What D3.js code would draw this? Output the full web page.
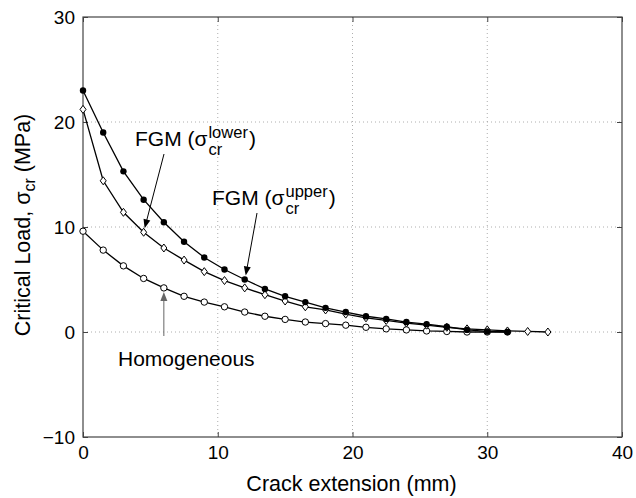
<!DOCTYPE html>
<html>
<head>
<meta charset="utf-8">
<script src="https://cdn.jsdelivr.net/npm/d3@7"></script>
<style>
  body { margin: 0; background: #fff; }
  svg { display: block; font-family: "Liberation Sans", Arial, Helvetica, sans-serif; }
</style>
</head>
<body>
<svg id="chart" width="636" height="498"></svg>
<script>
// crack extension (mm)
const crackUpper = [0, 1.5, 3, 4.5, 6, 7.5, 9, 10.5, 12, 13.5, 15, 16.5, 18, 19.5, 21, 22.5, 24, 25.5, 27, 28.5, 30, 31.5];
const crackLower = [0, 1.5, 3, 4.5, 6, 7.5, 9, 10.5, 12, 13.5, 15, 16.5, 18, 19.5, 21, 22.5, 24, 25.5, 27, 28.5, 30, 31.5, 33, 34.5];
const crackHomo  = [0, 1.5, 3, 4.5, 6, 7.5, 9, 10.5, 12, 13.5, 15, 16.5, 18, 19.5, 21, 22.5, 24, 25.5, 27, 28.5, 30, 31.5];

// critical load (MPa)
const sigmaUpper = [23.0, 19.0, 15.3, 12.6, 10.45, 8.6, 7.1, 5.95, 5.0, 4.1, 3.4, 2.85, 2.3, 1.9, 1.5, 1.25, 0.95, 0.75, 0.5, 0.2, 0.05, 0.0];
const sigmaLower = [21.2, 14.4, 11.4, 9.5, 8.0, 6.85, 5.75, 4.9, 4.2, 3.55, 2.95, 2.4, 2.1, 1.7, 1.35, 1.1, 0.85, 0.65, 0.45, 0.3, 0.2, 0.1, 0.05, 0.0];
const sigmaHomo  = [9.6, 7.8, 6.3, 5.1, 4.2, 3.4, 2.85, 2.4, 1.9, 1.5, 1.2, 0.95, 0.8, 0.65, 0.45, 0.3, 0.2, 0.1, 0.05, 0.0, 0.0, 0.0];

const xTicks = [0, 10, 20, 30, 40];
const yTicks = [-10, 0, 10, 20, 30];

const svg = d3.select("#chart");
const mLeft = 83, mRight = 622, mTop = 17, mBottom = 437;

const x = d3.scaleLinear().domain([0, 40]).range([mLeft, mRight]);
const y = d3.scaleLinear().domain([-10, 30]).range([mBottom, mTop]);

// 网格线
const grid = svg.append("g");
xTicks.slice(1, -1).forEach(t => {
  grid.append("line")
    .attr("x1", x(t)).attr("x2", x(t)).attr("y1", mTop).attr("y2", mBottom)
    .attr("stroke", "#999").attr("stroke-width", 0.8).attr("stroke-dasharray", "1,3");
});
yTicks.slice(1, -1).forEach(t => {
  grid.append("line")
    .attr("x1", mLeft).attr("x2", mRight).attr("y1", y(t)).attr("y2", y(t))
    .attr("stroke", "#999").attr("stroke-width", 0.8).attr("stroke-dasharray", "1,3");
});

// 坐标轴（刻度朝内）
const fmt = d => d < 0 ? "\u2212" + Math.abs(d) : String(d);
const axStyle = g => {
  g.select(".domain").remove();
  g.selectAll(".tick line").attr("stroke", "#444");
  g.selectAll(".tick text").attr("fill", "#000").attr("font-size", 19)
    .attr("font-family", "Liberation Sans, Arial, sans-serif");
};
svg.append("g").attr("transform", `translate(0,${mBottom})`)
  .call(d3.axisBottom(x).tickValues(xTicks).tickFormat(fmt).tickSizeInner(-5).tickPadding(9))
  .call(axStyle);
svg.append("g").attr("transform", `translate(0,${mTop})`)
  .call(d3.axisTop(x).tickValues(xTicks).tickFormat("").tickSizeInner(-5))
  .call(axStyle);
svg.append("g").attr("transform", `translate(${mLeft},0)`)
  .call(d3.axisLeft(y).tickValues(yTicks).tickFormat(fmt).tickSizeInner(-5).tickPadding(8))
  .call(axStyle);
svg.append("g").attr("transform", `translate(${mRight},0)`)
  .call(d3.axisRight(y).tickValues(yTicks).tickFormat("").tickSizeInner(-5))
  .call(axStyle);

svg.append("rect")
  .attr("x", mLeft).attr("y", mTop).attr("width", mRight - mLeft).attr("height", mBottom - mTop)
  .attr("fill", "none").attr("stroke", "#444").attr("stroke-width", 1.2);

// 曲线
const line = d3.line().x(d => x(d[0])).y(d => y(d[1]));
const series = [
  { xs: crackHomo, ys: sigmaHomo, mark: "openCircle" },
  { xs: crackLower, ys: sigmaLower, mark: "diamond" },
  { xs: crackUpper, ys: sigmaUpper, mark: "dot" }
];
series.forEach(s => {
  const pts = s.xs.map((v, i) => [v, s.ys[i]]);
  svg.append("path").datum(pts).attr("d", line)
    .attr("fill", "none").attr("stroke", "#000").attr("stroke-width", 1.3);
  const g = svg.append("g");
  pts.forEach(p => {
    if (s.mark === "dot") {
      g.append("circle").attr("cx", x(p[0])).attr("cy", y(p[1])).attr("r", 3.2).attr("fill", "#000");
    } else if (s.mark === "openCircle") {
      g.append("circle").attr("cx", x(p[0])).attr("cy", y(p[1])).attr("r", 3.2)
        .attr("fill", "#fff").attr("stroke", "#000").attr("stroke-width", 1);
    } else {
      g.append("path").attr("transform", `translate(${x(p[0])},${y(p[1])})`)
        .attr("d", "M0,-4L3,0L0,4L-3,0Z")
        .attr("fill", "#fff").attr("stroke", "#000").attr("stroke-width", 1);
    }
  });
});

// 轴标题
svg.append("text")
  .attr("x", (mLeft + mRight) / 2 - 1).attr("y", 491)
  .attr("text-anchor", "middle").attr("font-size", 21.5)
  .text("Crack extension (mm)");

const yl = svg.append("text")
  .attr("transform", `translate(30,225) rotate(-90)`)
  .attr("text-anchor", "middle").attr("font-size", 21.5);
yl.append("tspan").text("Critical Load, \u03c3");
yl.append("tspan").attr("font-size", 16).attr("dy", 5).text("cr");
yl.append("tspan").attr("dy", -5).text(" (MPa)");

// 注释：带上下标的标签
function stackedLabel(x0, y0, sup) {
  const g = svg.append("g");
  const main = g.append("text").attr("x", x0).attr("y", y0).attr("font-size", 21).text("FGM (\u03c3");
  const w = main.node().getComputedTextLength();
  const s1 = g.append("text").attr("x", x0 + w + 1).attr("y", y0 - 8).attr("font-size", 16.5).text(sup);
  const s2 = g.append("text").attr("x", x0 + w + 1).attr("y", y0 + 9).attr("font-size", 16.5).text("cr");
  const w2 = Math.max(s1.node().getComputedTextLength(), s2.node().getComputedTextLength());
  g.append("text").attr("x", x0 + w + w2 + 2).attr("y", y0).attr("font-size", 21).text(")");
}
stackedLabel(135, 146, "lower");
stackedLabel(212, 205, "upper");

svg.append("text").attr("x", 118).attr("y", 366).attr("font-size", 21).text("Homogeneous");

// 箭头
function arrow(x1, y1, x2, y2, color) {
  const a = Math.atan2(y2 - y1, x2 - x1);
  const L = 9, W = 3.5;
  svg.append("line").attr("x1", x1).attr("y1", y1)
    .attr("x2", x2 - Math.cos(a) * L * 0.8).attr("y2", y2 - Math.sin(a) * L * 0.8)
    .attr("stroke", color).attr("stroke-width", 1);
  const bx = x2 - Math.cos(a) * L, by = y2 - Math.sin(a) * L;
  const px = -Math.sin(a) * W, py = Math.cos(a) * W;
  svg.append("path")
    .attr("d", `M${x2},${y2}L${bx + px},${by + py}L${bx - px},${by - py}Z`)
    .attr("fill", color);
}
arrow(164, 154, x(crackLower[3]) + 1, y(sigmaLower[3]) - 4, "#000");
arrow(257, 213, x(crackUpper[8]) + 1, y(sigmaUpper[8]) - 4, "#000");
arrow(x(crackHomo[4]), 336, x(crackHomo[4]), y(sigmaHomo[4]) + 4, "#666");
</script>
</body>
</html>
